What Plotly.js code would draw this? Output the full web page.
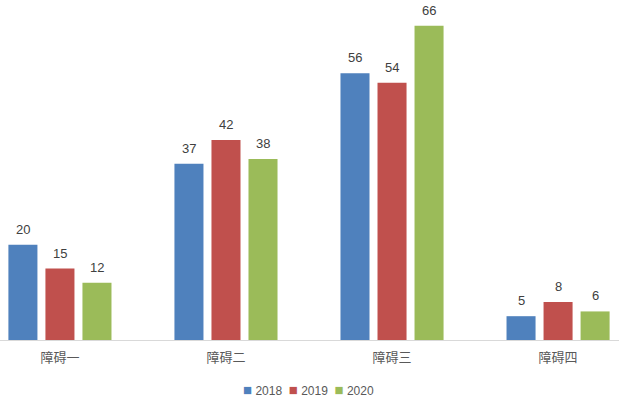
<!DOCTYPE html>
<html><head><meta charset="utf-8">
<script src="https://cdn.plot.ly/plotly-3.0.1.min.js"></script>
<style>html,body{margin:0;padding:0;background:#fff}#c{width:619px;height:398px}</style>
</head><body><div id="c"></div>
<script>
const categories = ["障碍一", "障碍二", "障碍三", "障碍四"];
const seriesNames = ["2018", "2019", "2020"];
const v2018 = [20, 37, 56, 5];
const v2019 = [15, 42, 54, 8];
const v2020 = [12, 38, 66, 6];
const colors = ["#4F81BD", "#C0504D", "#9BBB59"];
const allVals = [v2018, v2019, v2020];

const traces = allVals.map((vals, i) => ({
  type: "bar", x: categories, y: vals, name: seriesNames[i],
  marker: {color: colors[i]}, hoverinfo: "none", showlegend: false
}));

const annotations = [];
allVals.forEach((vals, i) => {
  vals.forEach((v, j) => {
    annotations.push({
      x: categories[j], y: v, xref: "x", yref: "y",
      text: String(v), showarrow: false, yanchor: "bottom",
      xshift: (i - 1) * 37, yshift: 6,
      font: {family: "Liberation Sans, Arial, sans-serif", size: 13, color: "#404040"}
    });
  });
});

// legend row built from series names and colours
const legendText = seriesNames.map((n, i) =>
  '<span style="color:' + colors[i] + ';font-size:15px">■</span>&nbsp;' + n
).join('&nbsp;&nbsp;');
annotations.push({
  x: 0.498, y: -0.147, xref: "paper", yref: "paper", xanchor: "center", yanchor: "middle",
  showarrow: false, text: legendText,
  font: {family: "Liberation Sans, Arial, sans-serif", size: 12, color: "#595959"}
});

const layout = {
  width: 619, height: 398,
  margin: {l: 0, r: 0, t: 0, b: 58, autoexpand: false},
  paper_bgcolor: "#fff", plot_bgcolor: "#fff",
  barmode: "group", bargap: 0.331, bargroupgap: 0.216,
  showlegend: false,
  xaxis: {range: [-0.361, 3.367], showline: true, linecolor: "#d9d9d9", linewidth: 1,
    showgrid: false, zeroline: false, ticks: "", ticklabelstandoff: 5,
    tickfont: {family: "Noto Sans CJK SC, sans-serif", size: 13, color: "#595959"}},
  yaxis: {range: [0, 71.4], visible: false, showgrid: false, zeroline: false},
  annotations: annotations
};

Plotly.newPlot("c", traces, layout, {staticPlot: true, displayModeBar: false});
</script></body></html>
